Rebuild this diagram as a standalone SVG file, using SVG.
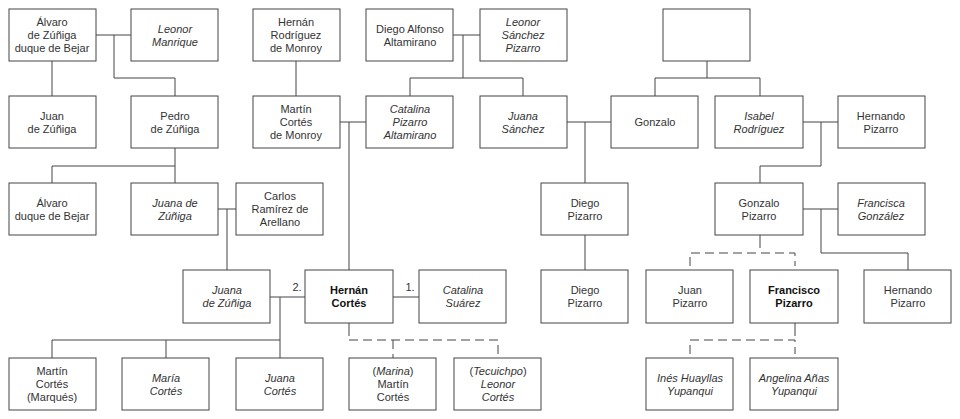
<svg xmlns="http://www.w3.org/2000/svg" width="960" height="419" viewBox="0 0 960 419">
<style>
rect{fill:#fff;stroke:#444;stroke-width:1}
text{font-family:"Liberation Sans",Arial,sans-serif;font-size:11px;fill:#333;text-anchor:middle}
.i{font-style:italic}
.b{font-weight:bold;fill:#111}
#c path{fill:none;stroke:#444;stroke-width:1}
#c .d{stroke-dasharray:9,5}
</style>
<rect x="0" y="0" width="960" height="419" style="fill:#fff;stroke:none"/>
<g id="c">
<path d="M96 35H131M114 35V78H175V96M52 61V96M175 148V166M52 166H175M52 166V183M175 166V183"/>
<path d="M218 209H236M227 209V270"/>
<path d="M296 61V96M453 35H480M463 35V78M410 78H523M410 78V96M523 78V96"/>
<path d="M340 122H366M349 122V270"/>
<path d="M567 122H611M585 122V183M585 235V270"/>
<path d="M707 61V78M655 78H760M655 78V96M760 78V96"/>
<path d="M803 122H838M821 122V166H760V183"/>
<path d="M803 209H838M821 209V253H908V270"/>
<path d="M760 235V248M795 323V336M349 323V336"/>
<path class="d" d="M690 266V253H795V266M690 354V340H795V354M349 340H498V358M393 340V358"/>
<path d="M270 297H305M280 297V340M52 340H280M52 340V358M166 340V358M280 340V358M393 297H419"/>
</g>
<text x="297" y="291">2.</text>
<text x="410" y="291">1.</text>
<g id="n1"><rect x="9" y="9" width="87" height="52"/><text x="52" y="26">Álvaro</text><text x="52" y="39">de Zúñiga</text><text x="52" y="52">duque de Bejar</text></g>
<g id="n2"><rect x="131" y="9" width="87" height="52"/><text class="i" x="175" y="33">Leonor</text><text class="i" x="175" y="46">Manrique</text></g>
<g id="n3"><rect x="253" y="9" width="87" height="52"/><text x="296" y="26">Hernán</text><text x="296" y="39">Rodríguez</text><text x="296" y="52">de Monroy</text></g>
<g id="n4"><rect x="366" y="9" width="87" height="52"/><text x="410" y="33">Diego Alfonso</text><text x="410" y="46">Altamirano</text></g>
<g id="n5"><rect x="480" y="9" width="87" height="52"/><text class="i" x="523" y="26">Leonor</text><text class="i" x="523" y="39">Sánchez</text><text class="i" x="523" y="52">Pizarro</text></g>
<g id="n6"><rect x="663" y="9" width="87" height="52"/></g>
<g id="n7"><rect x="9" y="96" width="87" height="52"/><text x="52" y="120">Juan</text><text x="52" y="133">de Zúñiga</text></g>
<g id="n8"><rect x="131" y="96" width="87" height="52"/><text x="175" y="120">Pedro</text><text x="175" y="133">de Zúñiga</text></g>
<g id="n9"><rect x="253" y="96" width="87" height="52"/><text x="296" y="113">Martín</text><text x="296" y="126">Cortés</text><text x="296" y="139">de Monroy</text></g>
<g id="n10"><rect x="366" y="96" width="87" height="52"/><text class="i" x="410" y="113">Catalina</text><text class="i" x="410" y="126">Pizarro</text><text class="i" x="410" y="139">Altamirano</text></g>
<g id="n11"><rect x="480" y="96" width="87" height="52"/><text class="i" x="523" y="120">Juana</text><text class="i" x="523" y="133">Sánchez</text></g>
<g id="n12"><rect x="611" y="96" width="87" height="52"/><text x="655" y="126">Gonzalo</text></g>
<g id="n13"><rect x="715" y="96" width="88" height="52"/><text class="i" x="759" y="120">Isabel</text><text class="i" x="759" y="133">Rodríguez</text></g>
<g id="n14"><rect x="838" y="96" width="87" height="52"/><text x="881" y="120">Hernando</text><text x="881" y="133">Pizarro</text></g>
<g id="n15"><rect x="9" y="183" width="87" height="52"/><text x="52" y="207">Álvaro</text><text x="52" y="220">duque de Bejar</text></g>
<g id="n16"><rect x="131" y="183" width="87" height="52"/><text class="i" x="175" y="207">Juana de</text><text class="i" x="175" y="220">Zúñiga</text></g>
<g id="n17"><rect x="236" y="183" width="87" height="52"/><text x="280" y="200">Carlos</text><text x="280" y="213">Ramírez de</text><text x="280" y="226">Arellano</text></g>
<g id="n18"><rect x="541" y="183" width="87" height="52"/><text x="585" y="207">Diego</text><text x="585" y="220">Pizarro</text></g>
<g id="n19"><rect x="715" y="183" width="88" height="52"/><text x="759" y="207">Gonzalo</text><text x="759" y="220">Pizarro</text></g>
<g id="n20"><rect x="838" y="183" width="87" height="52"/><text class="i" x="881" y="207">Francisca</text><text class="i" x="881" y="220">González</text></g>
<g id="n21"><rect x="183" y="270" width="87" height="53"/><text class="i" x="227" y="294">Juana</text><text class="i" x="227" y="307">de Zúñiga</text></g>
<g id="n22"><rect x="305" y="270" width="88" height="53"/><text class="b" x="349" y="294">Hernán</text><text class="b" x="349" y="307">Cortés</text></g>
<g id="n23"><rect x="419" y="270" width="87" height="53"/><text class="i" x="463" y="294">Catalina</text><text class="i" x="463" y="307">Suárez</text></g>
<g id="n24"><rect x="541" y="270" width="87" height="53"/><text x="585" y="294">Diego</text><text x="585" y="307">Pizarro</text></g>
<g id="n25"><rect x="646" y="270" width="87" height="53"/><text x="690" y="294">Juan</text><text x="690" y="307">Pizarro</text></g>
<g id="n26"><rect x="750" y="270" width="88" height="53"/><text class="b" x="794" y="294">Francisco</text><text class="b" x="794" y="307">Pizarro</text></g>
<g id="n27"><rect x="864" y="270" width="87" height="53"/><text x="908" y="294">Hernando</text><text x="908" y="307">Pizarro</text></g>
<g id="n28"><rect x="9" y="358" width="87" height="52"/><text x="52" y="375">Martín</text><text x="52" y="388">Cortés</text><text x="52" y="401">(Marqués)</text></g>
<g id="n29"><rect x="122" y="358" width="87" height="52"/><text class="i" x="166" y="382">María</text><text class="i" x="166" y="395">Cortés</text></g>
<g id="n30"><rect x="236" y="358" width="87" height="52"/><text class="i" x="280" y="382">Juana</text><text class="i" x="280" y="395">Cortés</text></g>
<g id="n31"><rect x="349" y="358" width="87" height="52"/><text x="393" y="375">(<tspan class="i">Marina</tspan>)</text><text x="393" y="388">Martín</text><text x="393" y="401">Cortés</text></g>
<g id="n32"><rect x="454" y="358" width="87" height="52"/><text x="498" y="375">(<tspan class="i">Tecuichpo</tspan>)</text><text class="i" x="498" y="388">Leonor</text><text class="i" x="498" y="401">Cortés</text></g>
<g id="n33"><rect x="646" y="358" width="87" height="52"/><text class="i" x="690" y="382">Inés Huayllas</text><text class="i" x="690" y="395">Yupanqui</text></g>
<g id="n34"><rect x="750" y="358" width="88" height="52"/><text class="i" x="794" y="382">Angelina Añas</text><text class="i" x="794" y="395">Yupanqui</text></g>
</svg>
